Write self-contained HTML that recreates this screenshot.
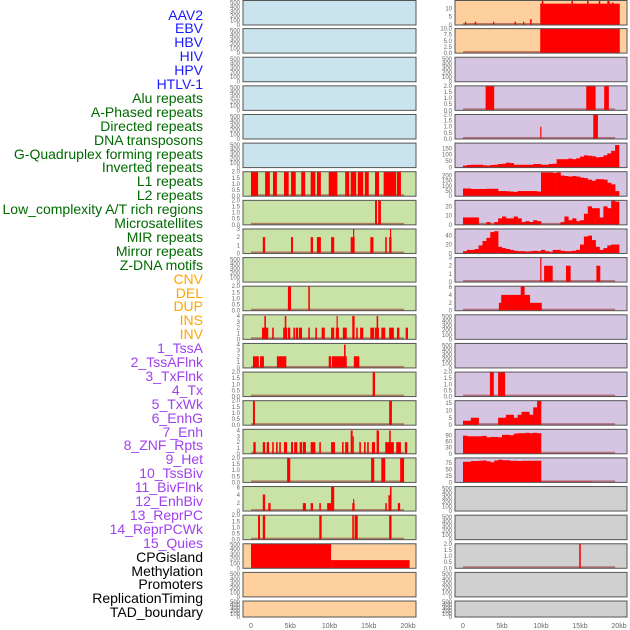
<!DOCTYPE html>
<html><head><meta charset="utf-8">
<style>
body{margin:0;background:#fff;width:630px;height:630px;overflow:hidden;font-family:"Liberation Sans",sans-serif;}
#labels{position:absolute;left:0;top:0;width:203px;}
.lab{position:absolute;right:0;font-size:14px;line-height:14px;white-space:nowrap;}
svg{position:absolute;left:0;top:0;}
</style></head><body>
<div id="labels"></div>
<svg id="chart" width="630" height="630"></svg>
<script>
const labelNames=["AAV2","EBV","HBV","HIV","HPV","HTLV-1","Alu repeats","A-Phased repeats","Directed repeats","DNA transposons","G-Quadruplex forming repeats","Inverted repeats","L1 repeats","L2 repeats","Low_complexity A/T rich regions","Microsatellites","MIR repeats","Mirror repeats","Z-DNA motifs","CNV","DEL","DUP","INS","INV","1_TssA","2_TssAFlnk","3_TxFlnk","4_Tx","5_TxWk","6_EnhG","7_Enh","8_ZNF_Rpts","9_Het","10_TssBiv","11_BivFlnk","12_EnhBiv","13_ReprPC","14_ReprPCWk","15_Quies","CPGisland","Methylation","Promoters","ReplicationTiming","TAD_boundary"];
const labelGroups=[0,0,0,0,0,0,1,1,1,1,1,1,1,1,1,1,1,1,1,2,2,2,2,2,3,3,3,3,3,3,3,3,3,3,3,3,3,3,3,4,4,4,4,4];
const groupColors=["#1a1aff","#006a00","#ffa500","#a040f0","#000000"];

const emptyTicks=["0","100","200","300","400","500"];
const t2=["0.0","0.5","1.0","1.5","2.0"];
// left column: y max, tick labels, segments [startKb,endKb,value]
const leftYMax=[540,540,540,540,540,540,2,2,3,540,2,4.2,4.2,2,2,4.2,2,6.2,2,510,540,540];
const leftTicks=[emptyTicks,emptyTicks,emptyTicks,emptyTicks,emptyTicks,emptyTicks,t2,t2,["0","1","2","3"],emptyTicks,t2,["0","1","2","3","4"],["0","1","2","3","4"],t2,t2,["0","1","2","3","4"],t2,["0","2","4","6"],t2,emptyTicks,emptyTicks,emptyTicks];
const leftSegs=[[],[],[],[],[],[],
[[0,0.9,2],[1.8,2.4,2],[2.8,3.3,2],[4.2,4.8,2],[5.1,5.7,2],[6.4,6.9,2],[7.6,8.2,2],[8.4,8.9,2],[9.9,11,2],[12,12.5,2],[12.7,13.4,2],[13.6,14.3,2],[14.5,15,2],[15.8,16.3,2],[16.9,18.5,2],[18.6,19.1,2]],
[[15.8,16.05,2],[16.2,16.55,2]],
[[1.5,1.8,2],[5.1,5.35,2],[7.6,7.9,2],[8.4,8.9,2],[10.2,10.6,2],[12.7,13.2,2],[13,13.1,3],[15.2,15.6,2],[17.1,17.3,2],[17.6,17.9,2],[17.7,17.8,3]],
[],
[[4.7,5.1,2],[7.3,7.5,2]],
[[1.4,2.2,2],[1.7,1.9,4],[2.7,2.9,2],[4.1,4.6,2],[4.3,4.5,4],[4.7,5,2],[5.4,5.6,2],[5.7,6,2],[6.1,6.5,2],[7.3,7.5,2],[8.2,8.4,2],[9,9.4,2],[10.2,10.6,2],[10.8,11.2,2],[10.9,11.05,4],[11.7,12.2,2],[12.9,13.2,4],[13.4,13.6,2],[13.9,14.3,2],[15.2,15.7,2],[15.8,16.3,2],[16,16.2,4],[16.6,17.1,2],[17.6,18.2,2],[18.6,18.9,2],[19.7,20,2]],
[[0.25,1,2],[1.15,1.65,2],[3.3,4.5,2],[9.9,10.2,2],[10.3,12.2,2],[11.85,12.05,4],[13.1,13.8,2]],
[[15.5,15.8,2]],
[[0.25,0.5,2],[17.6,17.95,2]],
[[0.3,0.6,2],[1.5,1.8,2],[2,2.3,2],[2.7,2.9,2],[3.2,3.4,2],[3.6,3.8,2],[4.2,4.6,2],[5.1,5.35,2],[5.5,5.9,2],[6.2,6.5,2],[6.6,7,2],[7.6,8.2,2],[8.7,8.9,2],[10.2,10.7,2],[11.6,11.8,2],[12,12.4,2],[12.7,12.95,4],[12.95,13.1,3],[13.8,14,2],[14.4,14.6,2],[14.8,15,2],[15.4,15.8,2],[16,16.3,4],[17.1,18.2,2],[17.6,17.8,4],[18.5,19.1,2],[19.6,19.9,2]],
[[4.6,5,2],[15.3,15.7,2],[16.6,17.1,2],[19,19.5,2]],
[[1.5,1.8,4.2],[2.2,2.5,2],[6.6,7,2],[7.6,7.9,2],[8.7,8.9,2],[9.7,10.2,2],[10.2,10.6,6.2],[12.9,13.2,2],[13,13.1,3],[17.1,17.3,2],[17.5,17.7,4],[17.7,17.9,6.2],[18.7,19,2]],
[[0.9,1.15,2],[1.5,1.8,2],[8.7,9,2],[12.9,13.1,2],[13.2,13.6,2],[17.6,17.9,2]],
[[0,10.2,510],[10.2,20.2,170]],
[],[]];
const leftBase=[0,0,0,0,0,0,1,1,1,0,1,1,1,1,1,1,1,1,1,0,0,0];

// right column
const rightYMax=[14.8,10,540,2,2,190,237,26.5,55,3,6.2,540,540,2,16.5,119,95,540,540,2,540,540];
const rightTicks=[["0","5","10"],["0.0","2.5","5.0","7.5","10.0"],emptyTicks,t2,t2,["0","50","100","150"],["0","50","100","150","200"],["0","10","20"],["0","20","40"],["0","1","2","3"],["0","2","4","6"],emptyTicks,emptyTicks,t2,["0","5","10","15"],["0","30","60","90"],["0","25","50","75"],emptyTicks,emptyTicks,t2,emptyTicks,emptyTicks];
const rightSegs=[
[[0.25,0.4,2],[1.5,1.7,2],[3.85,4,2],[6.6,6.8,2],[7.7,7.85,2],[8.6,8.8,3.5],[9.9,20.1,12.9],[10.1,10.3,14.8],[13.9,14.1,14.8],[15.9,16.1,14.8],[17.4,17.6,14.8],[18.5,18.8,14.8],[19.1,19.3,13.6]],
[[9.9,20.1,10]],[],
[[2.9,4,2],[15.8,17,2],[18.1,18.7,2]],
[[9.9,10,1],[16.7,17.3,2]],
[],[],[],[],
[[9.9,10,3],[10.4,11.5,2],[13.2,13.8,2],[17.1,17.6,2]],
[[4.6,10.1,2],[4.9,8.6,4],[7.4,7.9,6.2]],
[],[],
[[3.45,3.95,2],[4.5,5.4,2]],
[],[],
[[10,16.5,3]],
[],[],
[[14.9,15.1,2]],
[],[]];
const binKb=0.5;
const gquadBins=[15,20,22,22,22,18,15,20,22,28,30,38,35,22,22,22,22,22,28,28,22,22,28,30,65,65,65,70,65,72,85,95,92,88,80,82,95,110,130,175];
const l1Bins=[75,75,70,70,70,70,72,72,72,50,50,48,45,42,50,50,50,50,50,45,230,230,230,225,230,200,195,190,195,190,180,175,160,150,165,165,160,130,115,50];
const lowBins=[8,8,8,8,0,0,3,0,3,7,9,7,7,9,7,3,4,3,5,4,0,0,0,0,0,3,9,5,7,4,5,12,20,18,18,8,20,18,27,25];
const mirBins=[5,8,8,10,18,28,35,48,50,15,12,10,8,6,5,5,4,5,6,5,8,5,3,8,8,6,5,5,6,8,20,38,40,30,15,8,12,18,20,20];
const enhBins=[3,3,5,5,0,0,0,0,0,5,5,7,7,5,7,9,9,7,12,16.5];
const znfBins=[88,85,85,85,85,87,80,82,82,80,92,92,90,98,100,100,102,100,102,100];
const hetBins=[80,80,83,83,84,85,82,78,85,88,86,86,84,84,83,84,84,84,84,84];
const rightBinned={5:gquadBins,6:l1Bins,7:lowBins,8:mirBins,14:enhBins,15:znfBins,16:hetBins};
const rightBase=[1,1,0,1,1,1,1,1,1,1,1,0,0,1,1,1,1,0,0,1,0,0];
const xTicks=[0,5,10,15,20];
const xTickLabels=["0","5kb","10kb","15kb","20kb"];

// ---- layout ----
const leftBg=["#c9e4ec","#c9e4ec","#c9e4ec","#c9e4ec","#c9e4ec","#c9e4ec","#c9e2a6","#c9e2a6","#c9e2a6","#c9e2a6","#c9e2a6","#c9e2a6","#c9e2a6","#c9e2a6","#c9e2a6","#c9e2a6","#c9e2a6","#c9e2a6","#c9e2a6","#fed09e","#fed09e","#fed09e"];
const rightBg=["#fed09e","#fed09e","#d6c5e2","#d6c5e2","#d6c5e2","#d6c5e2","#d6c5e2","#d6c5e2","#d6c5e2","#d6c5e2","#d6c5e2","#d6c5e2","#d6c5e2","#d6c5e2","#d6c5e2","#d6c5e2","#d6c5e2","#d0d0d0","#d0d0d0","#d0d0d0","#d0d0d0","#d0d0d0"];
const NS="http://www.w3.org/2000/svg";
const svg=document.getElementById('chart');
function mk(tag,attrs,parent){const e=document.createElementNS(NS,tag);for(const k in attrs)e.setAttribute(k,attrs[k]);(parent||svg).appendChild(e);return e;}
const xL=kb=>251+kb*7.85;
const xR=kb=>463+kb*7.8;
function rowTop(i){return i===0?0.5:i*28.62;}
function rowH(i){return i===21?16:24.5;}

function drawPanel(i,side){
  const left=side==='L';
  const px=left?243:455, pw=left?173:172;
  const xs=left?xL:xR;
  const top=rowTop(i), h=rowH(i), bot=top+h;
  const ymax=left?leftYMax[i]:rightYMax[i];
  const ys=v=>bot-v/ymax*h;
  const g=mk('g',{});
  
  
  mk('rect',{x:px,y:top,width:pw,height:h,fill:left?leftBg[i]:rightBg[i]},g);
  const ticks=left?leftTicks[i]:rightTicks[i];
  ticks.forEach(t=>{
    const tx=mk('text',{x:px-3,y:ys(parseFloat(t))+2,'font-size':6,'text-anchor':'end',fill:'#666'},g);
    
    
    tx.textContent=t;
  });
  if(left?leftBase[i]:rightBase[i]){
    const b=mk('rect',{x:xs(0),y:bot-2,width:xs(19.5)-xs(0),height:2,fill:'rgba(150,40,40,0.55)'},g);
    
    
  }
  const segs=left?leftSegs[i]:rightSegs[i];
  segs.forEach(s=>{
    const v=Math.min(s[2],ymax);
    const r=mk('rect',{x:xs(s[0]),y:ys(v),width:Math.max(1.2,xs(s[1])-xs(s[0])),height:bot-ys(v),fill:'#ff0000'},g);
    
    
  });
  if(!left && rightBinned[i]){
    rightBinned[i].forEach((v,k)=>{
      const vv=Math.min(v,ymax);
      const r=mk('rect',{x:xs(k*binKb),y:ys(vv),width:xs((k+1)*binKb)-xs(k*binKb)+0.3,height:bot-ys(vv),fill:'#ff0000'},g);
      
      
    });
  }
  mk('rect',{x:px,y:top,width:pw,height:h,fill:'none',stroke:'#555','stroke-width':1},g);
}
for(let i=0;i<22;i++){drawPanel(i,'L');drawPanel(i,'R');}
xTicks.forEach((k,j)=>{
  [xL,xR].forEach(f=>{
    const t=mk('text',{x:f(k),y:628,'font-size':7,'text-anchor':'middle',fill:'#666'});
    
    
    t.textContent=xTickLabels[j];
  });
});
const lab=document.getElementById('labels');
labelNames.forEach((n,i)=>{
  const d=document.createElement('div');
  d.className='lab';
  d.style.top=(7.5+i*13.9)+'px';
  d.style.color=groupColors[labelGroups[i]];
  d.textContent=n;
  
  
  lab.appendChild(d);
});
</script>
</body></html>
